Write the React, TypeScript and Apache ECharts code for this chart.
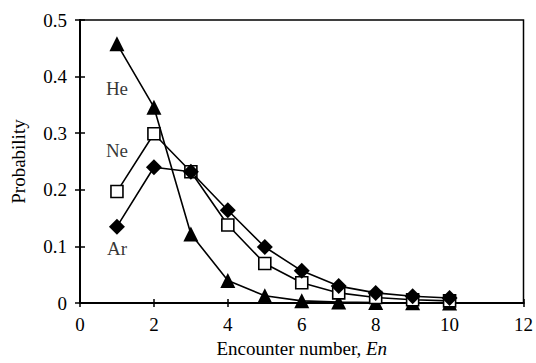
import React, { useEffect, useRef } from "react";
import * as echarts from "echarts";

// Encounter number En (x) and probability of each gas
const encounters = [1, 2, 3, 4, 5, 6, 7, 8, 9, 10];
const heProb = [0.458, 0.346, 0.122, 0.04, 0.013, 0.004, 0.002, 0.001, 0.0005, 0.0003];
const neProb = [0.197, 0.299, 0.232, 0.138, 0.07, 0.036, 0.018, 0.01, 0.006, 0.004];
const arProb = [0.135, 0.24, 0.232, 0.164, 0.099, 0.057, 0.03, 0.018, 0.012, 0.009];

// Gas names written next to their curves: [name, x, y]
const gasLabels: [string, number, number][] = [
  ["He", 1.0, 0.379],
  ["Ne", 1.0, 0.269],
  ["Ar", 1.0, 0.096],
];

const FONT = "Liberation Serif, Times New Roman, serif";
const FS = 19;

export default function App() {
  const ref = useRef<HTMLDivElement>(null);

  useEffect(() => {
    if (!ref.current) return;
    const chart = echarts.init(ref.current, undefined, { renderer: "svg" });

    const pairs = (ys: number[]) => encounters.map((x, i) => [x, ys[i]]);
    const lineStyle = { color: "#000", width: 1.6 };

    const xBase = {
      type: "value" as const,
      min: 0,
      max: 12,
      interval: 2,
      position: "bottom" as const,
      splitLine: { show: false },
      axisLine: { show: true, onZero: false, lineStyle: { color: "#000", width: 2 } },
    };
    const yBase = {
      type: "value" as const,
      min: 0,
      max: 0.5,
      interval: 0.1,
      position: "left" as const,
      splitLine: { show: false },
      axisLine: { show: true, onZero: false, lineStyle: { color: "#000", width: 2 } },
    };

    chart.setOption({
      animation: false,
      backgroundColor: "#fff",
      textStyle: { fontFamily: FONT },
      grid: {
        left: 80,
        right: 10,
        top: 20,
        bottom: 53,
        show: true,
        borderColor: "#000",
        borderWidth: 1.5,
        backgroundColor: "transparent",
      },
      xAxis: [
        {
          ...xBase,
          name: "{n|Encounter number, }{i|En}",
          nameLocation: "middle",
          nameGap: 33,
          nameTextStyle: {
            rich: {
              n: { fontFamily: FONT, fontSize: FS, color: "#000" },
              i: { fontFamily: FONT, fontSize: FS, color: "#000", fontStyle: "italic" },
            },
          },
          axisTick: { show: true, inside: false, length: 4, lineStyle: { color: "#000", width: 1.5 } },
          axisLabel: { color: "#000", fontSize: FS, fontFamily: FONT, margin: 12 },
        },
        {
          ...xBase,
          axisTick: { show: true, inside: true, length: 4, lineStyle: { color: "#000", width: 1.5 } },
          axisLabel: { show: false },
        },
      ],
      yAxis: [
        {
          ...yBase,
          name: "Probability",
          nameLocation: "middle",
          nameGap: 52,
          nameRotate: 90,
          nameTextStyle: { color: "#000", fontSize: FS, fontFamily: FONT },
          axisTick: { show: true, inside: false, length: 5, lineStyle: { color: "#000", width: 1.5 } },
          axisLabel: {
            color: "#000",
            fontSize: FS,
            fontFamily: FONT,
            margin: 13,
            formatter: (v: number) => (v === 0 ? "0" : v.toFixed(1)),
          },
        },
        {
          ...yBase,
          axisTick: { show: true, inside: true, length: 5, lineStyle: { color: "#000", width: 1.5 } },
          axisLabel: { show: false },
        },
      ],
      series: [
        {
          name: "He",
          type: "line",
          data: pairs(heProb),
          symbol: "triangle",
          symbolSize: 15,
          itemStyle: { color: "#000" },
          lineStyle,
          z: 3,
        },
        {
          name: "Ne",
          type: "line",
          data: pairs(neProb),
          symbol: "rect",
          symbolSize: 12,
          itemStyle: { color: "#fff", borderColor: "#000", borderWidth: 1.6 },
          lineStyle,
          z: 4,
        },
        {
          name: "Ar",
          type: "line",
          data: pairs(arProb),
          symbol: "diamond",
          symbolSize: 16,
          itemStyle: { color: "#000" },
          lineStyle,
          z: 5,
        },
        {
          name: "labels",
          type: "scatter",
          symbolSize: 0,
          data: gasLabels.map(([t, x, y]) => ({ value: [x, y], name: t })),
          label: {
            show: true,
            position: "inside",
            formatter: (p: any) => p.name,
            color: "#000",
            fontSize: FS,
            fontFamily: FONT,
          },
          silent: true,
          z: 6,
        },
      ],
    });

    return () => chart.dispose();
  }, []);

  return (
    <div
      ref={ref}
      style={{ position: "fixed", left: 0, top: 0, width: 536, height: 363, background: "#fff" }}
    />
  );
}
